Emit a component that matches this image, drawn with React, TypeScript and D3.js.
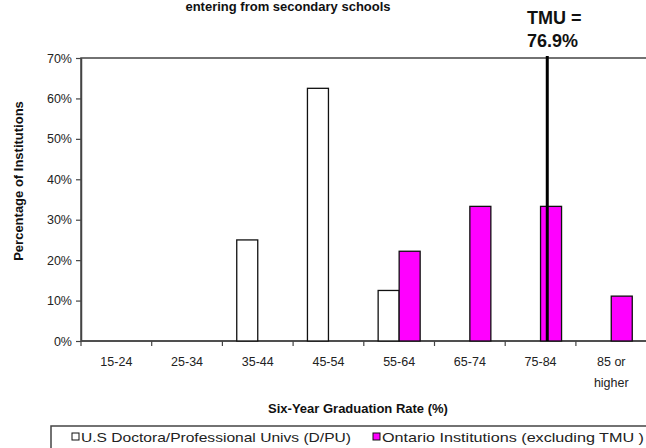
import * as d3 from "d3";
import { useEffect, useRef } from "react";

const categories = ["15-24", "25-34", "35-44", "45-54", "55-64", "65-74", "75-84", "85 or higher"];
const usValues = [0, 0, 25, 62.5, 12.5, 0, 0, 0];
const ontarioValues = [0, 0, 0, 0, 22.2, 33.3, 33.3, 11.1];
const yTicks = [0, 10, 20, 30, 40, 50, 60, 70];
const seriesNames = ["U.S Doctora/Professional Univs (D/PU)", "Ontario Institutions (excluding TMU )"];
const seriesColors = ["#ffffff", "#ff00ff"];
const tmuRate = 76.9;

const FONT = "Arial, 'Liberation Sans', sans-serif";

export default function App() {
  const ref = useRef<SVGSVGElement>(null);

  useEffect(() => {
    if (!ref.current) return;
    const svg = d3.select(ref.current);
    svg.selectAll("*").remove();

    const left = 81;
    const right = 646.6;
    const top = 58;
    const bottom = 341;

    const x = d3.scaleBand().domain(categories).range([left, right]).paddingInner(0).paddingOuter(0);
    const xs = d3
      .scaleBand()
      .domain(["us", "ontario"])
      .range([0, x.bandwidth()])
      .paddingInner(0)
      .paddingOuter(0.683);
    const y = d3.scaleLinear().domain([0, 70]).range([bottom, top]);

    // title (only the last line fits in the frame)
    svg
      .append("text")
      .attr("x", 288)
      .attr("y", 11)
      .attr("text-anchor", "middle")
      .attr("font-family", FONT)
      .attr("font-weight", "bold")
      .attr("font-size", 13)
      .attr("fill", "#111")
      .text("entering from secondary schools");

    // plot frame
    svg
      .append("rect")
      .attr("x", left)
      .attr("y", top)
      .attr("width", right - left + 5)
      .attr("height", bottom - top)
      .attr("fill", "none")
      .attr("stroke", "#444")
      .attr("stroke-width", 1.5);

    // y axis
    const yAxis = svg
      .append("g")
      .attr("transform", `translate(${left},0)`)
      .call(
        d3
          .axisLeft(y)
          .tickValues(yTicks)
          .tickSize(5)
          .tickSizeOuter(0)
          .tickPadding(4)
          .tickFormat((d) => `${d}%`)
      );
    yAxis.select(".domain").attr("stroke", "#444").attr("stroke-width", 1.5);
    yAxis.selectAll(".tick line").attr("stroke", "#444").attr("stroke-width", 1.2);
    yAxis
      .selectAll(".tick text")
      .attr("font-family", FONT)
      .attr("font-size", 12.5)
      .attr("fill", "#222");

    // x axis: ticks on category boundaries
    const xAxis = svg.append("g").attr("transform", `translate(0,${bottom})`);
    xAxis
      .append("line")
      .attr("x1", left)
      .attr("x2", right + 5)
      .attr("stroke", "#444")
      .attr("stroke-width", 1.5);
    xAxis
      .selectAll("line.tk")
      .data(categories)
      .enter()
      .append("line")
      .attr("class", "tk")
      .attr("x1", (d) => x(d)!)
      .attr("x2", (d) => x(d)!)
      .attr("y1", 0)
      .attr("y2", 5)
      .attr("stroke", "#444")
      .attr("stroke-width", 1.2);
    const labels = xAxis
      .selectAll("text.lbl")
      .data(categories)
      .enter()
      .append("text")
      .attr("class", "lbl")
      .attr("text-anchor", "middle")
      .attr("font-family", FONT)
      .attr("font-size", 12.5)
      .attr("fill", "#222")
      .attr("transform", (d) => `translate(${x(d)! + x.bandwidth() / 2},25)`);
    labels.each(function (d) {
      const parts = d === "85 or higher" ? ["85 or", "higher"] : [d];
      const t = d3.select(this);
      parts.forEach((p, i) => {
        t.append("tspan").attr("x", 0).attr("dy", i === 0 ? 0 : 21).text(p);
      });
    });

    // axis titles
    svg
      .append("text")
      .attr("x", 358)
      .attr("y", 413)
      .attr("text-anchor", "middle")
      .attr("font-family", FONT)
      .attr("font-weight", "bold")
      .attr("font-size", 13)
      .attr("fill", "#111")
      .text("Six-Year Graduation Rate (%)");
    svg
      .append("text")
      .attr("transform", "translate(23,181) rotate(-90)")
      .attr("text-anchor", "middle")
      .attr("font-family", FONT)
      .attr("font-weight", "bold")
      .attr("font-size", 13)
      .attr("fill", "#111")
      .text("Percentage of Institutions");

    // bars
    const series = [
      { key: "us", values: usValues, color: seriesColors[0] },
      { key: "ontario", values: ontarioValues, color: seriesColors[1] },
    ];
    series.forEach((s) => {
      svg
        .append("g")
        .selectAll("rect")
        .data(categories.map((c, i) => ({ c, v: s.values[i] })).filter((d) => d.v > 0))
        .enter()
        .append("rect")
        .attr("x", (d) => x(d.c)! + xs(s.key)!)
        .attr("y", (d) => y(d.v))
        .attr("width", xs.bandwidth())
        .attr("height", (d) => bottom - y(d.v))
        .attr("fill", s.color)
        .attr("stroke", "#111")
        .attr("stroke-width", 1.3);
    });

    // TMU reference line
    const tmuX = x("75-84")! + x.bandwidth() * 0.595;
    svg
      .append("line")
      .attr("x1", tmuX)
      .attr("x2", tmuX)
      .attr("y1", y(70) - 2)
      .attr("y2", bottom)
      .attr("stroke", "#000")
      .attr("stroke-width", 3);
    const tmuLabel = svg
      .append("text")
      .attr("x", 527)
      .attr("y", 24)
      .attr("font-family", FONT)
      .attr("font-weight", "bold")
      .attr("font-size", 18)
      .attr("fill", "#111");
    tmuLabel.append("tspan").attr("x", 527).text("TMU =");
    tmuLabel.append("tspan").attr("x", 527).attr("dy", 23).text(`${tmuRate}%`);

    // legend
    const lg = svg.append("g");
    lg.append("rect")
      .attr("x", 51)
      .attr("y", 426)
      .attr("width", 600)
      .attr("height", 30)
      .attr("fill", "#fff")
      .attr("stroke", "#444")
      .attr("stroke-width", 1.5);
    const legendX = [72, 373];
    const legendW = [270, 262];
    seriesNames.forEach((name, i) => {
      lg.append("rect")
        .attr("x", legendX[i])
        .attr("y", 433)
        .attr("width", 7)
        .attr("height", 7)
        .attr("fill", seriesColors[i])
        .attr("stroke", "#111")
        .attr("stroke-width", 1);
      lg.append("text")
        .attr("x", legendX[i] + 9)
        .attr("y", 442)
        .attr("font-family", FONT)
        .attr("font-size", 13)
        .attr("fill", "#222")
        .attr("textLength", legendW[i])
        .attr("lengthAdjust", "spacingAndGlyphs")
        .text(name);
    });
  }, []);

  return (
    <svg
      ref={ref}
      width={646}
      height={448}
      style={{ position: "absolute", left: 0, top: 0, background: "#fff" }}
    ></svg>
  );
}
